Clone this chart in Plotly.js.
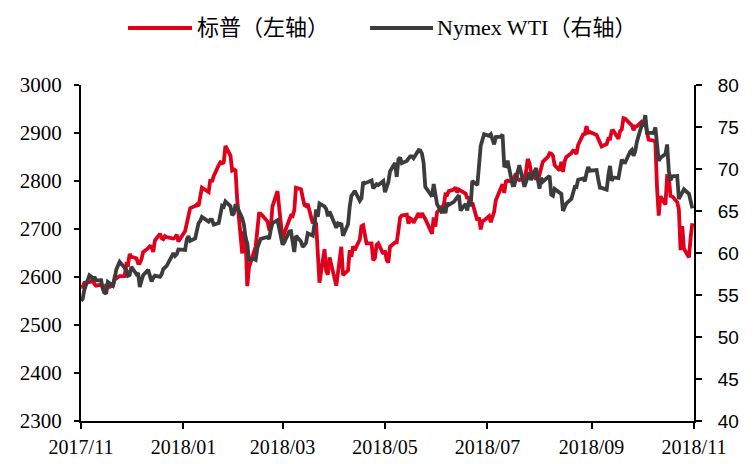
<!DOCTYPE html>
<html>
<head>
<meta charset="utf-8">
<script src="https://cdn.plot.ly/plotly-3.0.1.min.js"></script>
<style>
  html, body { margin: 0; padding: 0; background: #fff; }
  #chart { width: 756px; height: 464px; }
</style>
</head>
<body>
<div id="chart"></div>
<script>
// trading days, one line per month
let dates = [
  "2017-11-01","2017-11-02","2017-11-03","2017-11-06","2017-11-07","2017-11-08","2017-11-09","2017-11-10","2017-11-13","2017-11-14","2017-11-15","2017-11-16","2017-11-17","2017-11-20","2017-11-21","2017-11-22","2017-11-24","2017-11-27","2017-11-28","2017-11-29","2017-11-30",
  "2017-12-01","2017-12-04","2017-12-05","2017-12-06","2017-12-07","2017-12-08","2017-12-11","2017-12-12","2017-12-13","2017-12-14","2017-12-15","2017-12-18","2017-12-19","2017-12-20","2017-12-21","2017-12-22","2017-12-26","2017-12-27","2017-12-28","2017-12-29",
  "2018-01-02","2018-01-03","2018-01-04","2018-01-05","2018-01-08","2018-01-09","2018-01-10","2018-01-11","2018-01-12","2018-01-16","2018-01-17","2018-01-18","2018-01-19","2018-01-22","2018-01-23","2018-01-24","2018-01-25","2018-01-26","2018-01-29","2018-01-30","2018-01-31",
  "2018-02-01","2018-02-02","2018-02-05","2018-02-06","2018-02-07","2018-02-08","2018-02-09","2018-02-12","2018-02-13","2018-02-14","2018-02-15","2018-02-16","2018-02-20","2018-02-21","2018-02-22","2018-02-23","2018-02-26","2018-02-27","2018-02-28",
  "2018-03-01","2018-03-02","2018-03-05","2018-03-06","2018-03-07","2018-03-08","2018-03-09","2018-03-12","2018-03-13","2018-03-14","2018-03-15","2018-03-16","2018-03-19","2018-03-20","2018-03-21","2018-03-22","2018-03-23","2018-03-26","2018-03-27","2018-03-28","2018-03-29",
  "2018-04-02","2018-04-03","2018-04-04","2018-04-05","2018-04-06","2018-04-09","2018-04-10","2018-04-11","2018-04-12","2018-04-13","2018-04-16","2018-04-17","2018-04-18","2018-04-19","2018-04-20","2018-04-23","2018-04-24","2018-04-25","2018-04-26","2018-04-27","2018-04-30",
  "2018-05-01","2018-05-02","2018-05-03","2018-05-04","2018-05-07","2018-05-08","2018-05-09","2018-05-10","2018-05-11","2018-05-14","2018-05-15","2018-05-16","2018-05-17","2018-05-18","2018-05-21","2018-05-22","2018-05-23","2018-05-24","2018-05-25","2018-05-29","2018-05-30","2018-05-31",
  "2018-06-01","2018-06-04","2018-06-05","2018-06-06","2018-06-07","2018-06-08","2018-06-11","2018-06-12","2018-06-13","2018-06-14","2018-06-15","2018-06-18","2018-06-19","2018-06-20","2018-06-21","2018-06-22","2018-06-25","2018-06-26","2018-06-27","2018-06-28","2018-06-29",
  "2018-07-02","2018-07-03","2018-07-05","2018-07-06","2018-07-09","2018-07-10","2018-07-11","2018-07-12","2018-07-13","2018-07-16","2018-07-17","2018-07-18","2018-07-19","2018-07-20","2018-07-23","2018-07-24","2018-07-25","2018-07-26","2018-07-27","2018-07-30","2018-07-31",
  "2018-08-01","2018-08-02","2018-08-03","2018-08-06","2018-08-07","2018-08-08","2018-08-09","2018-08-10","2018-08-13","2018-08-14","2018-08-15","2018-08-16","2018-08-17","2018-08-20","2018-08-21","2018-08-22","2018-08-23","2018-08-24","2018-08-27","2018-08-28","2018-08-29","2018-08-30","2018-08-31",
  "2018-09-04","2018-09-05","2018-09-06","2018-09-07","2018-09-10","2018-09-11","2018-09-12","2018-09-13","2018-09-14","2018-09-17","2018-09-18","2018-09-19","2018-09-20","2018-09-21","2018-09-24","2018-09-25","2018-09-26","2018-09-27","2018-09-28",
  "2018-10-01","2018-10-02","2018-10-03","2018-10-04","2018-10-05","2018-10-08","2018-10-09","2018-10-10","2018-10-11","2018-10-12","2018-10-15","2018-10-16","2018-10-17","2018-10-18","2018-10-19","2018-10-22","2018-10-23","2018-10-24","2018-10-25","2018-10-26","2018-10-29","2018-10-30","2018-10-31"
];

// 标普 (left axis)
let spx = [
  2579,2580,2588,2591,2590,2594,2585,2582,2584,2579,2565,2585,2578,2582,2599,2597,2602,2602,2627,2626,2648,
  2642,2639,2629,2629,2637,2652,2660,2664,2663,2652,2676,2690,2681,2679,2685,2683,2680,2682,2688,2674,
  2696,2713,2724,2743,2748,2751,2748,2768,2786,2777,2803,2798,2810,2833,2839,2837,2839,2873,2853,2822,2824,
  2822,2762,2649,2695,2682,2581,2620,2656,2663,2698,2732,2732,2716,2701,2703,2747,2779,2745,2714,
  2678,2691,2721,2728,2727,2739,2786,2783,2766,2750,2748,2752,2712,2716,2711,2643,2588,2658,2612,2605,2641,
  2582,2614,2644,2663,2604,2614,2656,2642,2664,2656,2678,2706,2708,2693,2670,2670,2635,2639,2667,2670,2648,
  2655,2636,2630,2663,2672,2672,2697,2724,2728,2730,2711,2722,2720,2713,2733,2724,2733,2727,2721,2690,2724,2705,
  2735,2747,2749,2772,2771,2779,2782,2787,2776,2782,2780,2774,2763,2767,2749,2755,2718,2724,2699,2716,2718,
  2727,2714,2736,2760,2784,2793,2775,2799,2801,2798,2809,2815,2804,2802,2806,2820,2846,2838,2819,2803,2816,
  2813,2827,2840,2850,2858,2857,2853,2833,2822,2840,2819,2841,2850,2858,2863,2862,2856,2875,2897,2898,2914,2901,2902,
  2896,2888,2878,2872,2877,2888,2888,2904,2905,2888,2904,2907,2931,2930,2919,2916,2906,2914,2914,
  2924,2923,2926,2902,2886,2884,2881,2786,2728,2768,2751,2810,2809,2769,2768,2756,2741,2656,2706,2659,2641,2682,2712
];

// Nymex WTI (right axis)
let wti = [
  54.30,54.54,55.64,57.35,57.20,56.81,57.17,56.74,56.76,55.70,55.33,55.14,56.55,56.09,56.83,58.02,58.95,58.11,57.99,57.30,57.40,
  58.36,57.47,57.62,55.96,56.69,57.36,57.99,57.14,56.60,57.04,57.30,57.16,57.46,58.09,58.36,58.47,59.97,59.64,59.84,60.42,
  60.37,61.63,62.01,61.44,61.73,62.96,63.57,63.80,64.30,63.73,63.97,63.95,63.37,63.57,64.47,65.61,65.51,66.14,65.56,64.50,64.73,
  65.80,65.45,64.15,63.39,61.79,61.15,59.20,59.29,59.19,60.60,61.34,61.68,61.90,61.68,62.77,63.55,63.91,63.01,61.64,
  60.99,61.25,62.57,62.60,61.15,60.12,62.04,61.36,60.71,60.96,61.19,62.34,62.06,63.40,65.17,64.30,65.88,65.55,65.25,64.38,64.94,
  63.01,63.51,63.37,63.54,62.06,63.42,65.51,66.82,67.07,67.39,66.22,66.52,68.47,68.29,68.38,68.64,67.70,68.05,68.19,68.10,68.57,
  67.25,67.93,68.43,69.72,70.73,69.06,71.14,71.36,70.70,70.96,71.31,71.49,71.49,71.28,72.24,72.20,71.84,70.71,67.88,66.73,68.21,67.04,
  65.81,64.75,65.52,64.73,65.95,65.74,66.10,66.36,66.64,66.89,65.06,65.85,65.07,66.22,65.54,68.58,68.08,70.53,72.76,73.45,74.15,
  73.94,74.14,72.94,73.80,73.85,74.11,70.38,70.33,71.01,68.06,68.08,68.76,69.46,70.46,67.89,68.52,69.30,69.61,68.69,70.13,68.76,
  67.66,68.96,68.49,69.01,69.17,66.94,66.81,67.63,67.20,67.04,65.01,65.46,65.91,66.43,67.35,67.86,67.83,68.72,68.87,68.53,69.51,70.25,69.80,
  69.87,68.72,67.77,67.75,67.54,69.25,70.37,68.59,68.99,68.91,69.85,71.12,70.80,70.78,72.08,72.28,71.57,72.12,73.25,
  75.30,75.23,76.41,74.33,74.34,74.29,74.96,73.17,70.97,71.34,71.78,72.92,69.75,68.65,69.12,69.17,66.43,66.82,67.33,67.59,67.04,66.18,65.31
];

let seriesNames = ["标普（左轴）", "Nymex WTI（右轴）"];
let seriesColors = ["#E0001B", "#3C3C3C"];

let serif = "'Liberation Serif', 'Times New Roman', 'Noto Sans CJK SC', serif";

let spxLine = {
    x: dates,
    y: spx,
    mode: 'lines',
    name: seriesNames[0],
    line: { color: seriesColors[0], width: 3.8 },
    yaxis: 'y'
};

let wtiLine = {
    x: dates,
    y: wti,
    mode: 'lines',
    name: seriesNames[1],
    line: { color: seriesColors[1], width: 3.8 },
    yaxis: 'y2'
};

// hand-built legend, the sample lines in the original are long
let legendShapes = [
    { type: 'line', xref: 'paper', yref: 'paper', x0: 0.0767, x1: 0.1811, y0: 1.170, y1: 1.170,
      line: { color: seriesColors[0], width: 4 } },
    { type: 'line', xref: 'paper', yref: 'paper', x0: 0.4715, x1: 0.5742, y0: 1.170, y1: 1.170,
      line: { color: seriesColors[1], width: 4 } }
];

let legendText = [
    { text: seriesNames[0], xref: 'paper', yref: 'paper', x: 0.186, y: 1.170,
      xanchor: 'left', yanchor: 'middle', showarrow: false,
      font: { family: serif, size: 22, color: '#000' } },
    { text: seriesNames[1], xref: 'paper', yref: 'paper', x: 0.578, y: 1.170,
      xanchor: 'left', yanchor: 'middle', showarrow: false,
      font: { family: serif, size: 22, color: '#000' } }
];

let layout = {
    width: 756,
    height: 464,
    margin: { l: 81, r: 62, t: 85, b: 43, pad: 0 },
    paper_bgcolor: '#fff',
    plot_bgcolor: '#fff',
    showlegend: false,
    xaxis: {
        type: 'date',
        range: ['2017-11-01', '2018-11-01'],
        tick0: '2017-11-01',
        dtick: 'M2',
        tickformat: '%Y/%m',
        ticks: 'outside',
        ticklen: 6,
        tickwidth: 2,
        tickcolor: '#000',
        ticklabelstandoff: 1,
        showgrid: false,
        zeroline: false,
        showline: true,
        linecolor: '#000',
        linewidth: 2,
        tickfont: { family: serif, size: 20, color: '#000' }
    },
    yaxis: {
        range: [2300, 3000],
        dtick: 100,
        ticks: 'outside',
        ticklen: 5,
        tickwidth: 2,
        tickcolor: '#000',
        ticklabelstandoff: 8,
        showgrid: false,
        zeroline: false,
        showline: true,
        linecolor: '#000',
        linewidth: 2,
        tickfont: { family: serif, size: 21, color: '#000' }
    },
    yaxis2: {
        range: [40, 80],
        dtick: 5,
        overlaying: 'y',
        side: 'right',
        ticks: 'outside',
        ticklen: 6,
        tickwidth: 2,
        tickcolor: '#000',
        ticklabelstandoff: 12,
        showgrid: false,
        zeroline: false,
        showline: true,
        linecolor: '#000',
        linewidth: 2,
        tickfont: { family: "'Liberation Sans', Arial, sans-serif", size: 19, color: '#000' }
    },
    shapes: legendShapes,
    annotations: legendText
};

Plotly.newPlot('chart', [spxLine, wtiLine], layout, { displayModeBar: false, staticPlot: true });
</script>
</body>
</html>
